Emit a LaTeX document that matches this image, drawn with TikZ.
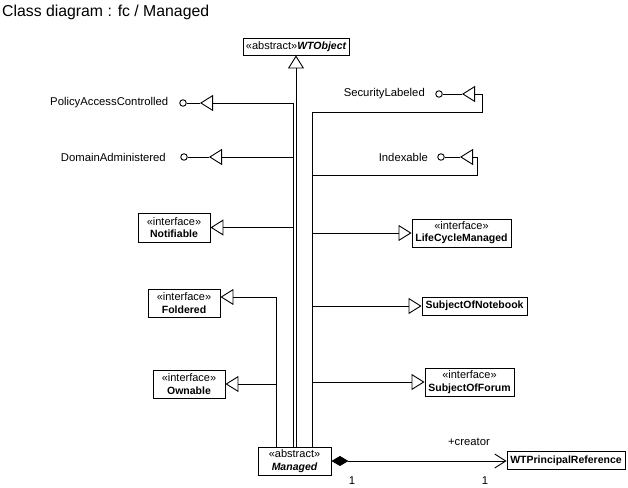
\documentclass[tikz,border=0pt]{standalone}
\usepackage{fontspec}
\setmainfont{Liberation Sans}
\usetikzlibrary{arrows.meta}
\newcommand{\nm}[1]{{\fontsize{10.5}{12.2}\selectfont\bfseries #1}}
\begin{document}
\begin{tikzpicture}[x=1pt,y=-1pt,
  lbl/.style={font=\fontsize{11.3}{13}\selectfont},
  cls/.style={draw, line width=0.9pt, fill=white, inner sep=0pt, align=center, font=\fontsize{11}{12.2}\selectfont},
  gen/.style={line width=0.9pt, -{Triangle[open,length=13pt,width=16pt]}},
  ln/.style={line width=0.9pt},
  ball/.style={circle, draw, line width=0.9pt, minimum size=6.5pt, inner sep=0pt},
  comp/.style={line width=0.9pt, {Diamond[length=17pt,width=10pt]}-{Straight Barb[length=11pt,width=14pt]}}
]
\useasboundingbox (0,0) rectangle (628,487);
\node[anchor=west, inner sep=0pt, font=\fontsize{15.8}{18}\selectfont] (title) at (2,12) {Class diagram : fc / Managed};

% classes
\node[cls, minimum width=106pt, minimum height=17pt] (wto) at (296,46.5) {«abstract»\nm{\itshape WTObject}};
\node[cls, minimum width=73pt, minimum height=28pt] (man) at (294.5,461) {«abstract»\\\nm{\itshape Managed}};
\node[cls, minimum width=72pt, minimum height=29pt] (notif) at (174,227.5) {«interface»\\\nm{Notifiable}};
\node[cls, minimum width=72pt, minimum height=28pt] (fold) at (184,303) {«interface»\\\nm{Foldered}};
\node[cls, minimum width=72pt, minimum height=28pt] (own) at (189,384) {«interface»\\\nm{Ownable}};
\node[cls, minimum width=99pt, minimum height=28pt] (lcm) at (461.5,233) {«interface»\\\nm{LifeCycleManaged}};
\node[cls, minimum width=105pt, minimum height=18pt] (son) at (474.5,306) {\nm{SubjectOfNotebook}};
\node[cls, minimum width=89pt, minimum height=28pt] (sof) at (469.5,382) {«interface»\\\nm{SubjectOfForum}};
\node[cls, minimum width=118pt, minimum height=18pt] (wtp) at (566,460.5) {\nm{WTPrincipalReference}};

% lollipop interfaces
\node[ball] (pacB) at (183,103) {};
\node[lbl, anchor=east, inner sep=0pt] (pacL) at (168.5,103) {PolicyAccessControlled};
\coordinate (pacT) at (200,103);
\node[ball] (domB) at (184,157) {};
\node[lbl, anchor=east, inner sep=0pt] (domL) at (166,157) {DomainAdministered};
\coordinate (domT) at (209,157);
\node[ball] (secB) at (439,94) {};
\node[lbl, anchor=east, inner sep=0pt] (secL) at (425,94) {SecurityLabeled};
\coordinate (secT) at (462,94);
\coordinate (secK) at (482,112);
\node[ball] (idxB) at (441,157) {};
\node[lbl, anchor=east, inner sep=0pt] (idxL) at (428,157) {Indexable};
\coordinate (idxT) at (460,157);
\coordinate (idxK) at (477,175);

\draw[ln] (pacB) -- (pacT);
\draw[ln] (domB) -- (domT);
\draw[ln] (secB) -- (secT);
\draw[ln] (idxB) -- (idxT);

% generalizations
\draw[gen] ([xshift=1.5pt]man.north) -- (wto.south);
\draw[gen] ([xshift=-1.5pt]man.north) |- (pacT);
\draw[gen] ([xshift=-1.5pt]man.north) |- (domT);
\draw[gen] ([xshift=-1.5pt]man.north) |- (notif.east);
\draw[gen] ([xshift=-18.5pt]man.north) |- ([yshift=6pt]fold.east);
\draw[gen] ([xshift=-18.5pt]man.north) |- (own.east);
\draw[gen] ([xshift=17.5pt]man.north) |- (secK) |- (secT);
\draw[gen] ([xshift=17.5pt]man.north) |- (idxK) |- (idxT);
\draw[gen] ([xshift=17.5pt]man.north) |- (lcm.west);
\draw[gen] ([xshift=17.5pt]man.north) |- (son.west);
\draw[gen] ([xshift=17.5pt]man.north) |- (sof.west);

% composition
\draw[comp] (man.east) -- (man.east -| wtp.west);
\node[lbl, inner sep=0pt] (cr) at (469,441.5) {+creator};
\node[lbl, inner sep=0pt] (m1) at (352,481) {1};
\node[lbl, inner sep=0pt] (m2) at (485,481) {1};
\end{tikzpicture}
\end{document}
